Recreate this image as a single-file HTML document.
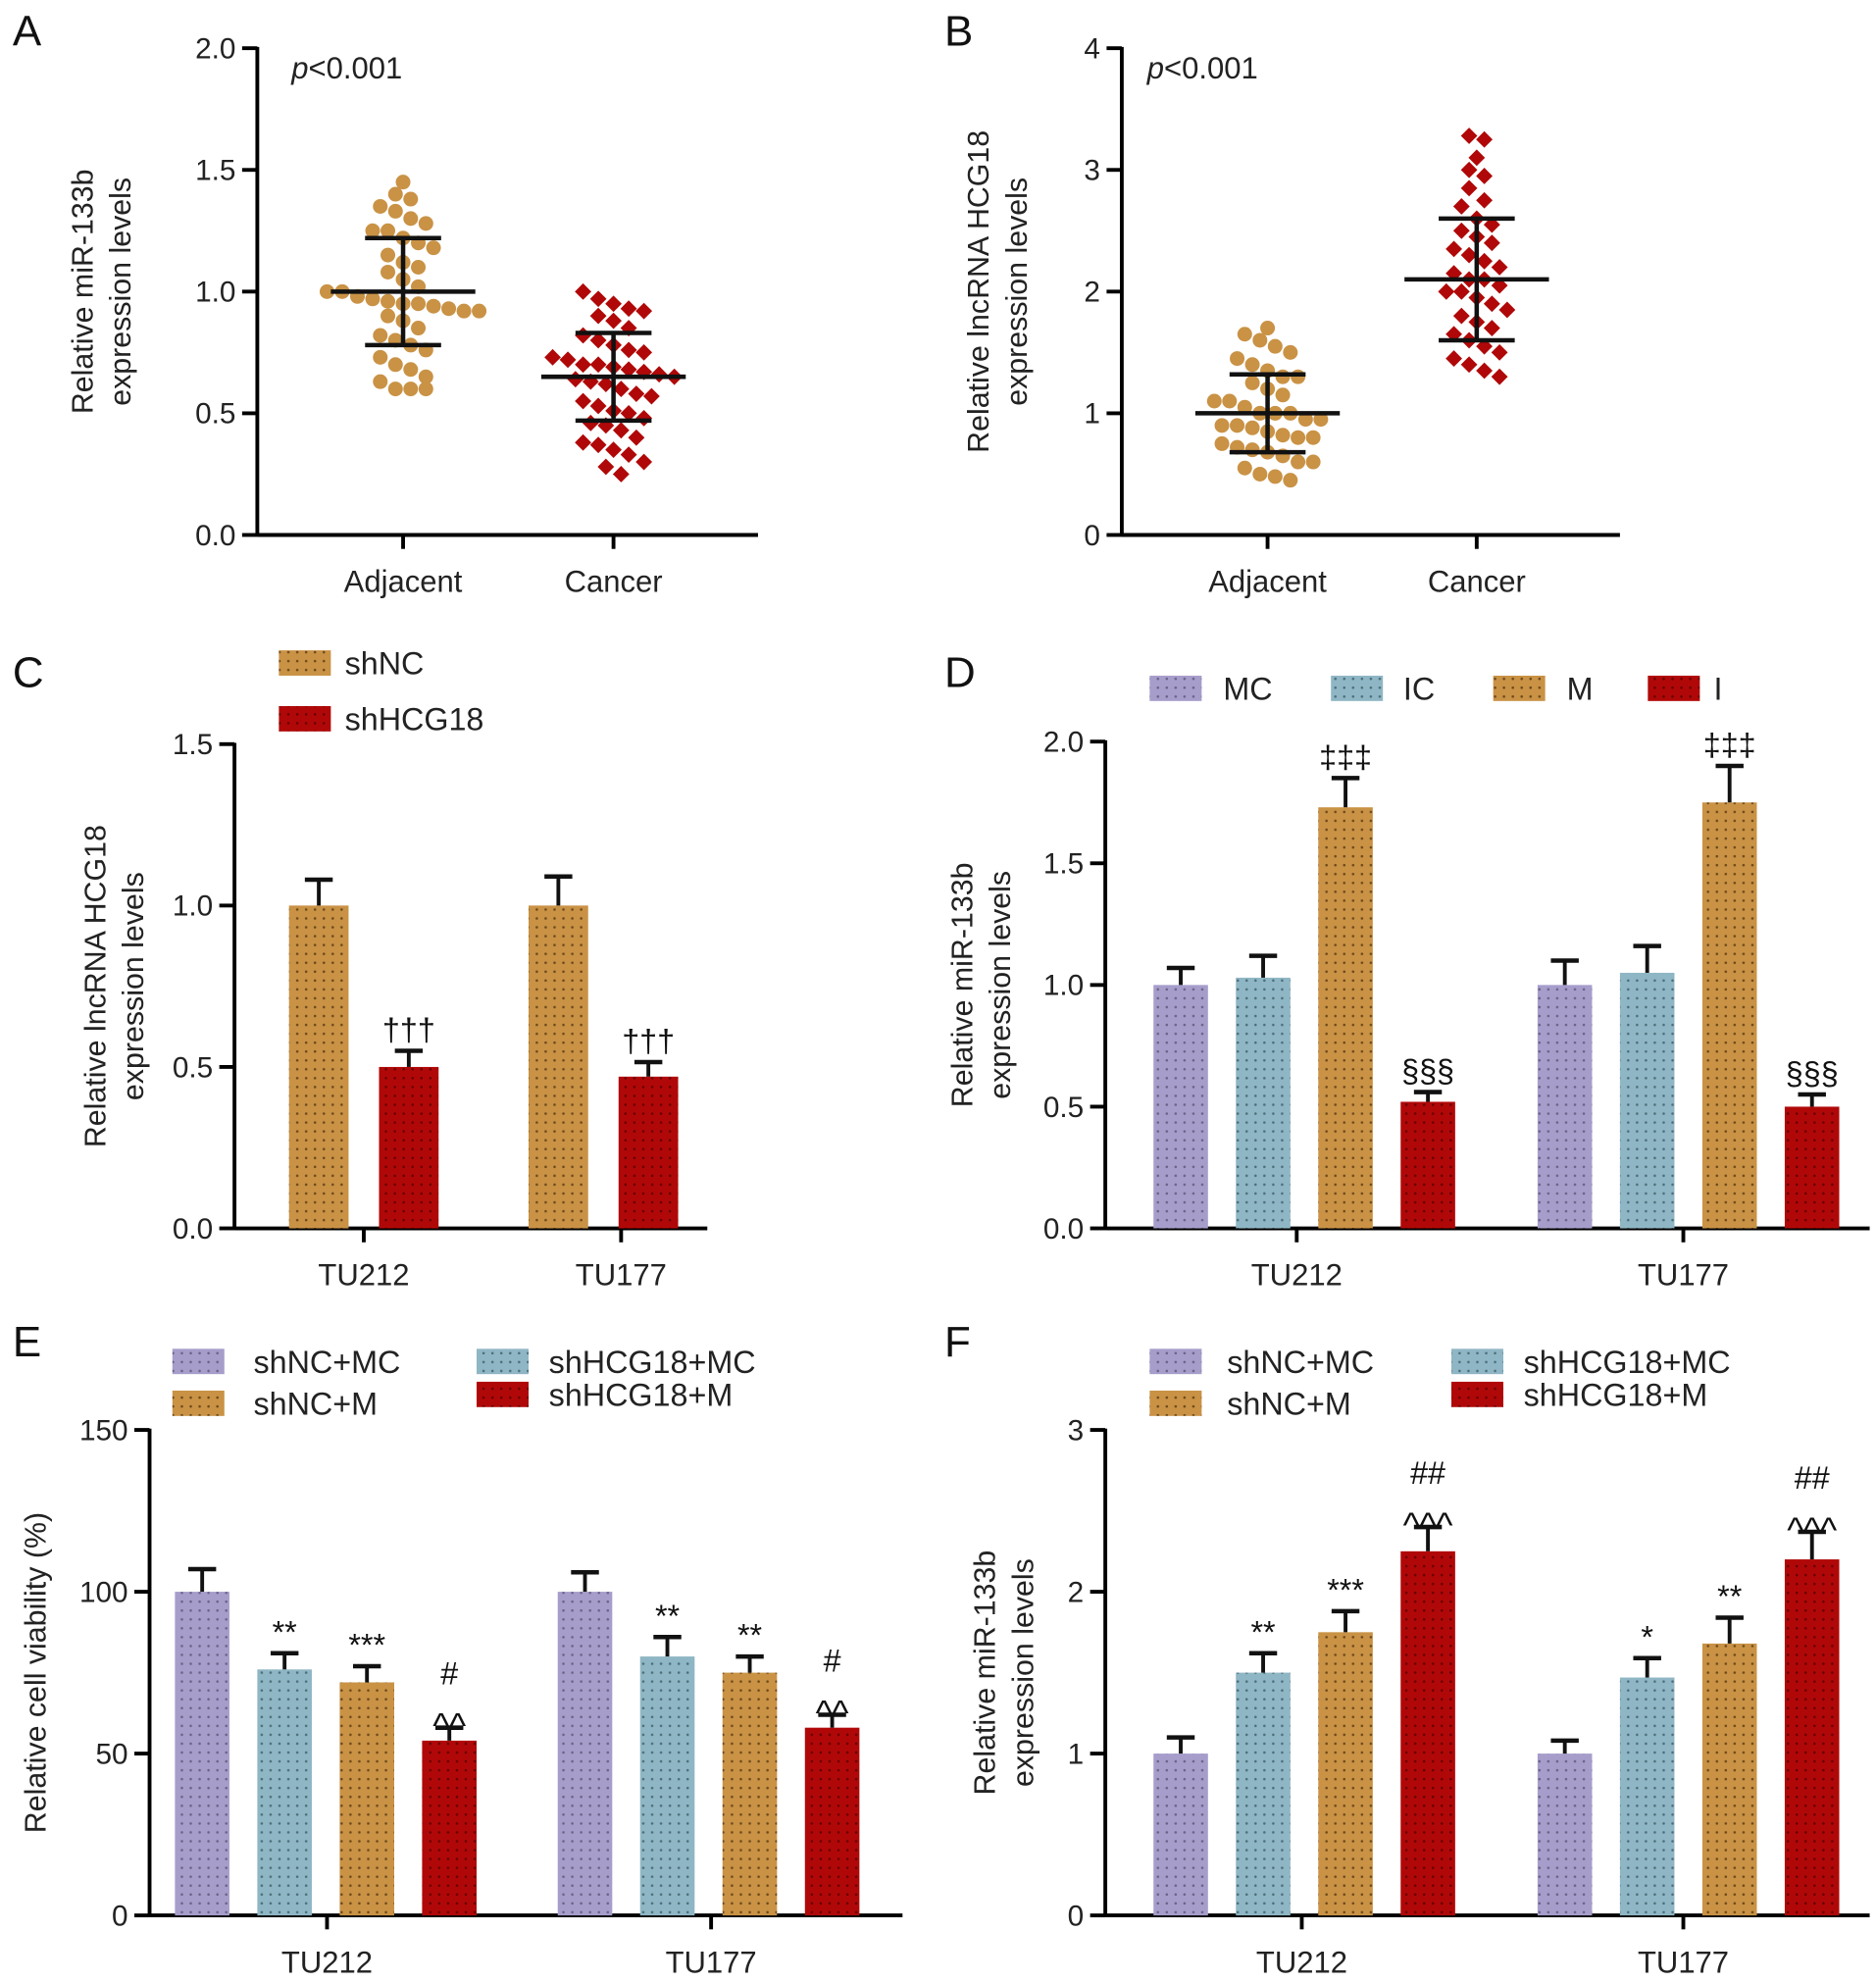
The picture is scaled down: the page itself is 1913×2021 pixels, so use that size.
<!DOCTYPE html>
<html><head><meta charset="utf-8"><style>
html,body{margin:0;padding:0;background:#fff;}
svg{display:block;font-family:"Liberation Sans",sans-serif;}
</style></head><body>
<svg id="fig" xmlns="http://www.w3.org/2000/svg" width="1913" height="2021" viewBox="0 0 1480 1563.5">
<defs>
<pattern id="p-purple" width="7" height="7" patternUnits="userSpaceOnUse"><rect width="7" height="7" fill="#a79dcb"/><circle cx="3.5" cy="3.5" r="1" fill="#6b6488"/></pattern>
<pattern id="p-blue" width="7" height="7" patternUnits="userSpaceOnUse"><rect width="7" height="7" fill="#8fb6c4"/><circle cx="3.5" cy="3.5" r="1" fill="#4d6f7c"/></pattern>
<pattern id="p-orange" width="7" height="7" patternUnits="userSpaceOnUse"><rect width="7" height="7" fill="#c99245"/><circle cx="3.5" cy="3.5" r="1" fill="#6e4a1c"/></pattern>
<pattern id="p-red" width="7" height="7" patternUnits="userSpaceOnUse"><rect width="7" height="7" fill="#b00808"/><circle cx="3.5" cy="3.5" r="1" fill="#6a0000"/></pattern>
</defs>
</svg>
<script>
// ---- Data ----
const aAdjacent=[1.45,1.40,1.38,1.35,1.33,1.30,1.28,1.25,1.25,1.22,1.20,1.18,1.15,1.12,1.10,1.08,1.05,1.02,1.00,1.00,0.98,0.97,0.96,0.95,0.95,0.94,0.93,0.92,0.92,0.90,0.88,0.85,0.82,0.80,0.78,0.76,0.73,0.70,0.68,0.65,0.63,0.60,0.60,0.60];
const aCancer=[1.0,0.97,0.95,0.93,0.92,0.90,0.88,0.85,0.82,0.80,0.78,0.76,0.75,0.73,0.72,0.70,0.70,0.69,0.68,0.67,0.66,0.65,0.64,0.63,0.62,0.60,0.58,0.57,0.55,0.53,0.51,0.50,0.48,0.46,0.45,0.43,0.40,0.38,0.37,0.35,0.33,0.30,0.28,0.25];
const aStats=[[1.0,0.22],[0.65,0.18]];
const bAdjacent=[1.7,1.65,1.6,1.55,1.5,1.45,1.4,1.35,1.3,1.3,1.25,1.2,1.15,1.1,1.1,1.05,1.0,1.0,1.0,0.95,0.95,0.9,0.9,0.88,0.85,0.82,0.8,0.8,0.75,0.72,0.7,0.68,0.65,0.6,0.6,0.55,0.5,0.48,0.45];
const bCancer=[3.28,3.25,3.1,3.0,2.95,2.85,2.75,2.7,2.6,2.55,2.5,2.45,2.4,2.35,2.3,2.25,2.2,2.15,2.1,2.1,2.05,2.0,2.0,1.95,1.9,1.85,1.8,1.75,1.7,1.65,1.6,1.55,1.5,1.45,1.4,1.35,1.3];
const bStats=[[1.0,0.32],[2.1,0.5]];
const scatterCats=["Adjacent","Cancer"];
const groups=["TU212","TU177"];
const cVals=[[1.0,0.5],[1.0,0.47]];
const cErr=[[0.08,0.05],[0.09,0.045]];
const cAnn=[["","†††"],["","†††"]];
const dVals=[[1.0,1.03,1.73,0.52],[1.0,1.05,1.75,0.5]];
const dErr=[[0.07,0.09,0.12,0.04],[0.1,0.11,0.15,0.05]];
const dAnn=[["","","‡‡‡","§§§"],["","","‡‡‡","§§§"]];
const eVals=[[100,76,72,54],[100,80,75,58]];
const eErr=[[7,5,5,4],[6,6,5,4]];
const eAnn=[["","**","***","#|^^"],["","**","**","#|^^"]];
const fVals=[[1.0,1.5,1.75,2.25],[1.0,1.47,1.68,2.2]];
const fErr=[[0.1,0.12,0.13,0.15],[0.08,0.12,0.16,0.17]];
const fAnn=[["","**","***","##|^^^"],["","*","**","##|^^^"]];
const ticksA=["0.0","0.5","1.0","1.5","2.0"];
const ticksB=["0","1","2","3","4"];
const ticksC=["0.0","0.5","1.0","1.5"];
const ticksD=["0.0","0.5","1.0","1.5","2.0"];
const ticksE=["0","50","100","150"];
const ticksF=["0","1","2","3"];

const NS="http://www.w3.org/2000/svg";
const svg=document.getElementById('fig');
function mk(tag,attrs,parent,text){const e=document.createElementNS(NS,tag);for(const k in attrs)e.setAttribute(k,attrs[k]);if(text!==undefined)e.textContent=text;(parent||svg).appendChild(e);return e;}
function grp(name){const g=mk('g',{});return g;}

function axes(g,ax){
  const y=v=>ax.y0-(v-ax.min)/(ax.max-ax.min)*(ax.y0-ax.y1);
  const a=mk('line',{x1:ax.x,y1:ax.y1-1,x2:ax.x,y2:ax.y0+1,stroke:'#000','stroke-width':3},g);
  
  const b=mk('line',{x1:ax.x,y1:ax.y0,x2:ax.xe,y2:ax.y0,stroke:'#000','stroke-width':3},g);
  
  ax.ticks.forEach(t=>{const v=parseFloat(t);const yy=y(v);
    mk('line',{x1:ax.x-12,y1:yy,x2:ax.x,y2:yy,stroke:'#000','stroke-width':3},g);
    const tl=mk('text',{x:ax.x-17,y:yy+8,'text-anchor':'end','font-size':23,fill:'#222'},g,t);
    });
  ax.cx.forEach((cx,i)=>{mk('line',{x1:cx,y1:ax.y0,x2:cx,y2:ax.y0+11,stroke:'#000','stroke-width':3},g);
    const tl=mk('text',{x:cx,y:ax.y0+45,'text-anchor':'middle','font-size':24,fill:'#222'},g,ax.cats[i]);
    });
  const lx=ax.lx, ly=(ax.y0+ax.y1)/2;
  const t=mk('text',{transform:`translate(${lx},${ly}) rotate(-90)`,'text-anchor':'middle','font-size':23.5,fill:'#222'},g);
  
  ax.label.forEach((l,i)=>mk('tspan',{x:0,y:i*30-(ax.label.length-1)*15+(ax.label.length>1?0:8)},t,l));
  return y;
}
function letter(x,y,s){const t=mk('text',{x:x,y:y,'font-size':34,fill:'#111'},svg,s);}

function scatter(name,ax,sets,stats,shapes,colors){
  const g=grp(name);const y=axes(g,ax);
  sets.forEach((vals,ci)=>{
    const rows={};
    vals.forEach(v=>{const py=y(v);const k=Math.round(py/17);(rows[k]=rows[k]||[]).push(py);});
    Object.keys(rows).forEach(k=>{const r=rows[k];const n=r.length;
      r.forEach((py,i)=>{const dx=(i-(n-1)/2)*12;const cx=ax.cx[ci]+dx;
        let m;
        if(shapes[ci]==='c'){m=mk('circle',{cx:cx,cy:py,r:5.8,fill:colors[ci]},g);}
        else{m=mk('rect',{x:cx-4.6,y:py-4.6,width:9.2,height:9.2,fill:colors[ci],transform:`rotate(45 ${cx} ${py})`},g);}
        
        });});
    const [mean,sd]=stats[ci];const cx=ax.cx[ci];
    mk('line',{x1:cx-57,x2:cx+57,y1:y(mean),y2:y(mean),stroke:'#111','stroke-width':3.5},g);
    mk('line',{x1:cx,x2:cx,y1:y(mean+sd),y2:y(mean-sd),stroke:'#111','stroke-width':3.5},g);
    mk('line',{x1:cx-30,x2:cx+30,y1:y(mean+sd),y2:y(mean+sd),stroke:'#111','stroke-width':3.5},g);
    mk('line',{x1:cx-30,x2:cx+30,y1:y(mean-sd),y2:y(mean-sd),stroke:'#111','stroke-width':3.5},g);
  });
  return g;
}

function bars(name,ax,vals,errs,anns,fills,bw,step,starts){
  const g=grp(name);const y=axes(g,ax);
  vals.forEach((gv,gi)=>{gv.forEach((v,si)=>{
    const x=starts[gi]+si*step;const top=y(v);
    const r=mk('rect',{x:x,y:top,width:bw,height:ax.y0-top,fill:`url(#${fills[si]})`},g);
    
    
    const cx=x+bw/2;const et=y(v+errs[gi][si]);
    mk('line',{x1:cx,x2:cx,y1:top,y2:et,stroke:'#111','stroke-width':3},g);
    mk('line',{x1:cx-11,x2:cx+11,y1:et,y2:et,stroke:'#111','stroke-width':3.5},g);
    const a=anns[gi][si];
    if(a){const parts=a.split('|');
      parts.slice().reverse().forEach((p,k)=>{
        const isCaret=p.indexOf('^')>=0;
        const t=mk('text',{x:cx,y:et-8-k*26+(isCaret?16:0),'text-anchor':'middle','font-size':isCaret?28:25,fill:'#111'},g,p);
        });}
  });});
  return g;
}
function legend(items){
  const g=grp('legend');
  items.forEach(([bx,by,tx,fill,label])=>{
    const r=mk('rect',{x:bx,y:by-10,width:41,height:20,fill:`url(#${fill})`},g);
    
    const t=mk('text',{x:tx,y:by+9,'font-size':25,fill:'#222'},g,label);
    
  });
}

// Panel A
letter(10,36,'A');
scatter('panel-a-scatter',{x:203,xe:598,y0:422,y1:38,min:0,max:2,ticks:ticksA,cx:[318,484],cats:scatterCats,lx:88,label:["Relative miR-133b","expression levels"]},[aAdjacent,aCancer],aStats,['c','d'],['#c99245','#b00808']);
(function(){const t=mk('text',{x:230,y:62,'font-size':24,fill:'#222'});t.innerHTML='<tspan font-style="italic">p</tspan>&lt;0.001';})();
// Panel B
letter(745,36,'B');
scatter('panel-b-scatter',{x:885,xe:1278,y0:422,y1:38,min:0,max:4,ticks:ticksB,cx:[1000,1165],cats:scatterCats,lx:795,label:["Relative lncRNA HCG18","expression levels"]},[bAdjacent,bCancer],bStats,['c','d'],['#c99245','#b00808']);
(function(){const t=mk('text',{x:905,y:62,'font-size':24,fill:'#222'});t.innerHTML='<tspan font-style="italic">p</tspan>&lt;0.001';})();
// Panel C
letter(10,542,'C');
legend([[220,523,272,'p-orange','shNC'],[220,567,272,'p-red','shHCG18']]);
bars('panel-c-bars',{x:185,xe:558,y0:969,y1:587,min:0,max:1.5,ticks:ticksC,cx:[287,490],cats:groups,lx:98,label:["Relative lncRNA HCG18","expression levels"]},cVals,cErr,cAnn,['p-orange','p-red'],47,71,[228,417]);
// Panel D
letter(745,542,'D');
legend([[907,543,965,'p-purple','MC'],[1050,543,1107,'p-blue','IC'],[1178,543,1236,'p-orange','M'],[1300,543,1352,'p-red','I']]);
bars('panel-d-bars',{x:872,xe:1475,y0:969,y1:585,min:0,max:2,ticks:ticksD,cx:[1023,1328],cats:groups,lx:782,label:["Relative miR-133b","expression levels"]},dVals,dErr,dAnn,['p-purple','p-blue','p-orange','p-red'],43,65,[910,1213]);
// Panel E
letter(10,1070,'E');
legend([[136,1074,200,'p-purple','shNC+MC'],[136,1107,200,'p-orange','shNC+M'],[376,1074,433,'p-blue','shHCG18+MC'],[376,1100,433,'p-red','shHCG18+M']]);
bars('panel-e-bars',{x:118,xe:712,y0:1511,y1:1128,min:0,max:150,ticks:ticksE,cx:[258,561],cats:groups,lx:28,label:["Relative cell viability (%)"]},eVals,eErr,eAnn,['p-purple','p-blue','p-orange','p-red'],43,65,[138,440]);
// Panel F
letter(745,1070,'F');
legend([[907,1074,968,'p-purple','shNC+MC'],[907,1107,968,'p-orange','shNC+M'],[1145,1074,1202,'p-blue','shHCG18+MC'],[1145,1100,1202,'p-red','shHCG18+M']]);
bars('panel-f-bars',{x:872,xe:1475,y0:1511,y1:1128,min:0,max:3,ticks:ticksF,cx:[1027,1328],cats:groups,lx:800,label:["Relative miR-133b","expression levels"]},fVals,fErr,fAnn,['p-purple','p-blue','p-orange','p-red'],43,65,[910,1213]);
</script>
</body></html>
